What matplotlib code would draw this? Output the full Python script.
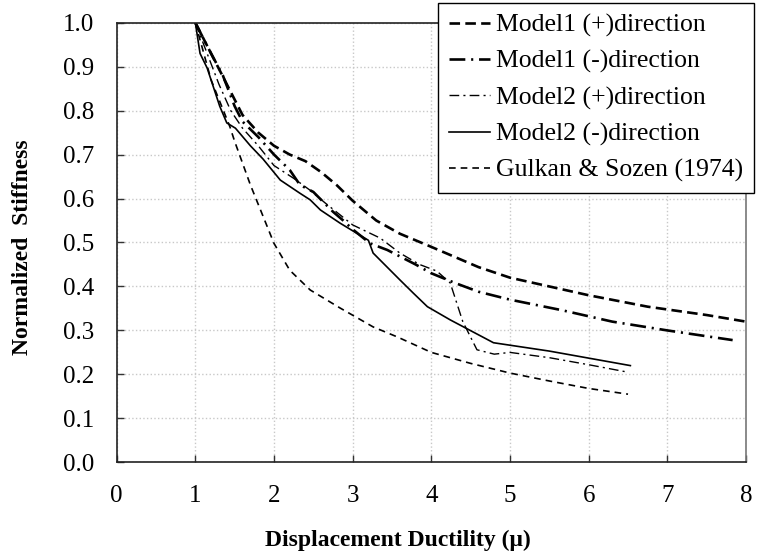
import matplotlib
matplotlib.use("Agg")
import matplotlib.pyplot as plt

plt.rcParams['font.family'] = ['Liberation Serif', 'DejaVu Serif']

# Model1 (+)direction
m1p_x = [1.0, 1.2, 1.4, 1.6, 1.8, 2.0, 2.2, 2.4, 2.6, 2.8, 3.0, 3.3, 3.6, 4.0, 4.6, 5.0, 5.5, 6.0, 6.75, 7.5, 8.0]
m1p_y = [1.0, 0.93, 0.86, 0.79, 0.75, 0.72, 0.70, 0.685, 0.66, 0.63, 0.595, 0.55, 0.52, 0.49, 0.444, 0.42, 0.40, 0.38, 0.354, 0.335, 0.32]

# Model1 (-)direction
m1n_x = [1.0, 1.2, 1.35, 1.5, 1.6, 1.8, 2.0, 2.2, 2.33, 2.5, 2.75, 2.88, 3.0, 3.22, 3.44, 3.8, 4.0, 4.3, 4.6, 5.0, 5.66, 6.3, 7.0, 7.83]
m1n_y = [1.0, 0.93, 0.88, 0.81, 0.775, 0.74, 0.70, 0.665, 0.631, 0.615, 0.57, 0.55, 0.53, 0.498, 0.483, 0.45, 0.43, 0.408, 0.388, 0.37, 0.346, 0.32, 0.30, 0.278]

# Model2 (+)direction
m2p_x = [1.0, 1.15, 1.3, 1.45, 1.6, 1.8, 2.0, 2.25, 2.45, 2.65, 3.0, 3.35, 3.6, 3.85, 4.07, 4.24, 4.4, 4.58, 4.8, 5.0, 5.5, 6.0, 6.5]
m2p_y = [1.0, 0.93, 0.86, 0.80, 0.76, 0.72, 0.675, 0.646, 0.62, 0.59, 0.54, 0.51, 0.476, 0.45, 0.435, 0.408, 0.32, 0.256, 0.246, 0.25, 0.238, 0.222, 0.205]

# Model2 (-)direction
m2n_x = [1.0, 1.06, 1.15, 1.31, 1.4, 1.51, 1.7, 1.86, 2.08, 2.33, 2.46, 2.59, 2.84, 3.2, 3.26, 3.6, 3.77, 3.95, 4.24, 4.79, 5.5, 6.53]
m2n_y = [1.0, 0.93, 0.897, 0.81, 0.772, 0.76, 0.72, 0.69, 0.642, 0.612, 0.597, 0.574, 0.544, 0.505, 0.476, 0.415, 0.385, 0.354, 0.324, 0.272, 0.253, 0.22]

# Gulkan & Sozen (1974)
gs_x = [1.0, 1.2, 1.44, 1.5, 1.7, 2.0, 2.2, 2.46, 2.84, 3.26, 3.57, 4.0, 4.5, 5.0, 5.5, 6.0, 6.5]
gs_y = [1.0, 0.87, 0.763, 0.73, 0.631, 0.498, 0.437, 0.392, 0.351, 0.308, 0.285, 0.25, 0.225, 0.203, 0.185, 0.168, 0.155]

labels = ['Model1 (+)direction', 'Model1 (-)direction', 'Model2 (+)direction',
          'Model2 (-)direction', 'Gulkan & Sozen (1974)']

fig = plt.figure(figsize=(7.61, 5.56), dpi=100)
ax = fig.add_axes([0.1533, 0.1685, 0.8270, 0.7907])

ax.plot(m1p_x, m1p_y, color='black', lw=1.9, dashes=(4, 2), label=labels[0])
ax.plot(m1n_x, m1n_y, color='black', lw=1.9, dashes=(6, 2.2, 0.8, 2.2), label=labels[1])
ax.plot(m2p_x, m2p_y, color='black', lw=1.0, dashes=(7, 3, 1.5, 3), label=labels[2])
ax.plot(m2n_x, m2n_y, color='black', lw=1.2, label=labels[3])
ax.plot(gs_x, gs_y, color='black', lw=1.2, dashes=(4, 3), label=labels[4])

ax.set_xlim(0, 8)
ax.set_ylim(0, 1.0)
ax.set_xticks(range(0, 9))
ax.set_yticks([i / 10 for i in range(11)])
ax.set_yticklabels([f'{i / 10:.1f}' for i in range(11)])
ax.tick_params(direction='in', length=5, width=1, labelsize=18, color='#333333')
ax.tick_params(axis='x', pad=16)
ax.tick_params(axis='y', pad=16)
ax.grid(True, color='#c8c8c8', linestyle=':', lw=1.0)

for side in ['left', 'bottom', 'top']:
    ax.spines[side].set_color('#222222')
    ax.spines[side].set_linewidth(1.2)
ax.spines['right'].set_color('#777777')
ax.spines['right'].set_linewidth(1.2)

ax.set_xlabel('Displacement Ductility (\u03bc)', fontsize=17, fontweight='bold', va='center')
ax.xaxis.set_label_coords(0.447, -0.177)
ax.set_ylabel('Normalized  Stiffness', fontsize=17, fontweight='bold', va='center')
ax.yaxis.set_label_coords(-0.150, 0.49)

leg = fig.legend(loc='upper left', bbox_to_anchor=(438 / 761, 1 - 3 / 556),
                 fontsize=18.5, frameon=True, fancybox=False, framealpha=1,
                 edgecolor='black', handlelength=1.6, handletextpad=0.25,
                 labelspacing=0.5, borderpad=0.42, borderaxespad=0)
leg.get_frame().set_linewidth(1.0)

fig.savefig('out.png', dpi=100)
